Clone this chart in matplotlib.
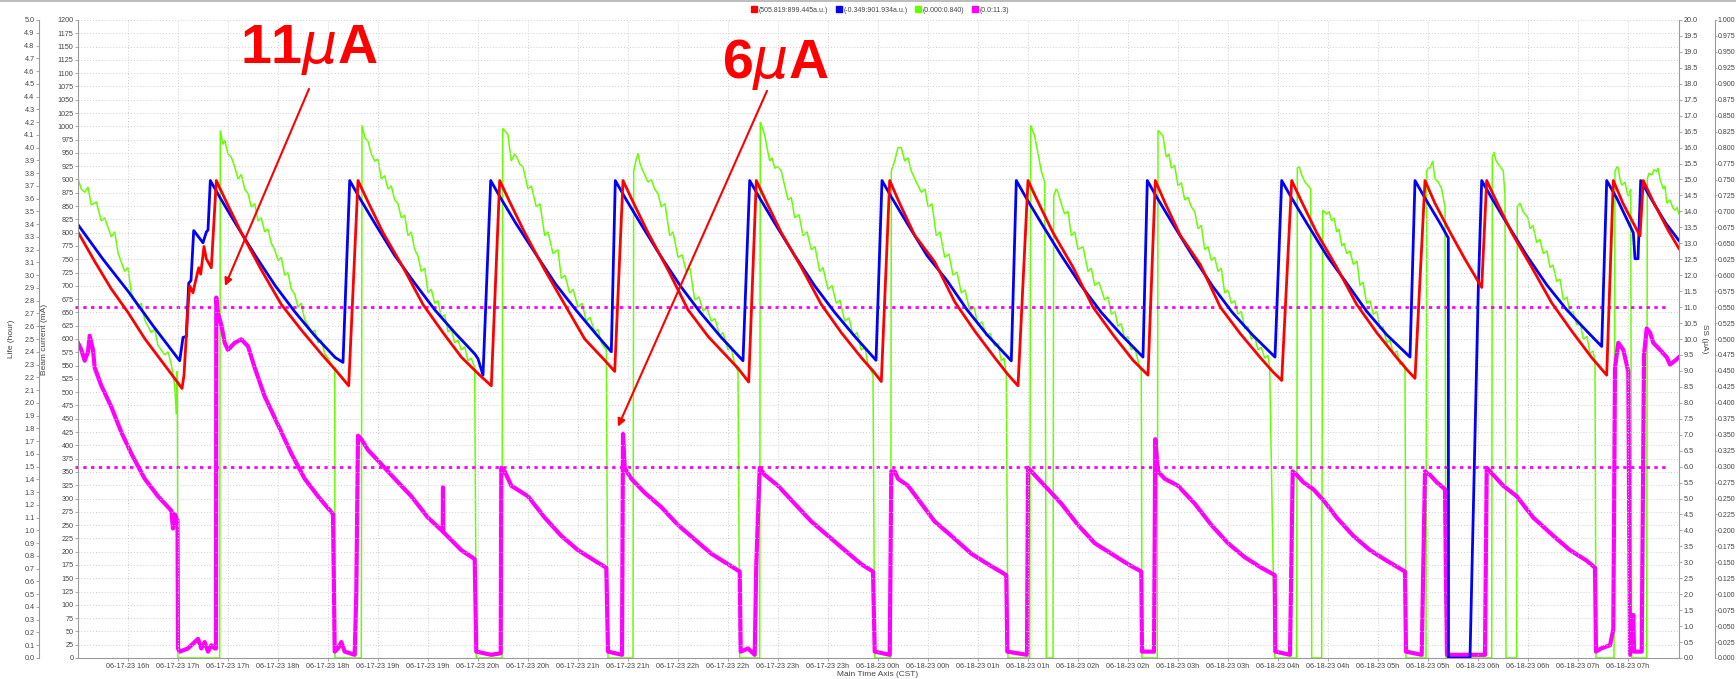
import matplotlib
matplotlib.use("Agg")
import matplotlib.pyplot as plt
import numpy as np
from matplotlib.lines import Line2D

plt.rcParams["font.family"] = ["Liberation Sans", "DejaVu Sans"]

# time axis: hours after 06-17-23 16:00 (CST)
x_ticks = np.arange(0.5, 16.0, 0.5)
x_tick_labels = [
    "06-17-23 16h", "06-17-23 17h", "06-17-23 17h", "06-17-23 18h", "06-17-23 18h",
    "06-17-23 19h", "06-17-23 19h", "06-17-23 20h", "06-17-23 20h", "06-17-23 21h",
    "06-17-23 21h", "06-17-23 22h", "06-17-23 22h", "06-17-23 23h", "06-17-23 23h",
    "06-18-23 00h", "06-18-23 00h", "06-18-23 01h", "06-18-23 01h", "06-18-23 02h",
    "06-18-23 02h", "06-18-23 03h", "06-18-23 03h", "06-18-23 04h", "06-18-23 04h",
    "06-18-23 05h", "06-18-23 05h", "06-18-23 06h", "06-18-23 06h", "06-18-23 07h",
    "06-18-23 07h",
]

# red: beam current (mA)
red_t = [0.00, 0.17, 0.33, 0.50, 0.67, 0.83, 0.95, 1.04,
         1.06, 1.10, 1.117, 1.15, 1.173, 1.207, 1.227, 1.26, 1.283, 1.333,
         1.383, 1.483, 1.633, 1.833, 2.033, 2.233, 2.433, 2.583, 2.707,
         2.80, 2.90, 3.05, 3.25, 3.45, 3.65, 3.833, 4.00, 4.133,
         4.217, 4.317, 4.467, 4.667, 4.867, 5.067, 5.267, 5.367,
         5.45, 5.55, 5.70, 5.90, 6.10, 6.30, 6.50, 6.60, 6.707,
         6.783, 6.883, 7.033, 7.233, 7.433, 7.633, 7.833, 7.95, 8.033,
         8.117, 8.217, 8.367, 8.567, 8.767, 8.967, 9.167, 9.30, 9.40,
         9.50, 9.60, 9.75, 9.95, 10.15, 10.35, 10.55, 10.70,
         10.773, 10.873, 11.023, 11.223, 11.423, 11.623, 11.823, 11.95, 12.037,
         12.137, 12.237, 12.387, 12.587, 12.787, 12.987, 13.187, 13.30, 13.37,
         13.47, 13.57, 13.72, 13.87, 14.037,
         14.087, 14.187, 14.337, 14.537, 14.737, 14.937, 15.137, 15.287,
         15.353, 15.45, 15.62,
         15.653, 15.753, 15.90, 16.01]
red_v = [801, 745, 695, 650, 600, 560, 530, 507,
         532, 660, 700, 687, 707, 734, 722, 774, 751, 734,
         898, 858, 800, 730, 665, 617, 572, 540, 512,
         898, 858, 800, 735, 665, 612, 566, 535, 512,
         898, 858, 800, 730, 665, 600, 560, 539,
         898, 858, 800, 730, 655, 605, 565, 545, 519,
         898, 858, 800, 735, 665, 612, 565, 540, 520,
         898, 855, 795, 745, 670, 615, 565, 533, 512,
         898, 858, 800, 735, 660, 608, 560, 532,
         898, 855, 795, 740, 660, 610, 565, 538, 522,
         898, 858, 800, 735, 665, 612, 565, 540, 526,
         898, 855, 801, 750, 697,
         898, 858, 800, 735, 668, 615, 565, 532,
         898, 855, 794,
         898, 858, 805, 770]

# blue: beam current (mA)
blue_t = [0.00, 0.25, 0.50, 0.75, 1.017,
          1.05, 1.083, 1.107, 1.13, 1.157, 1.25, 1.283, 1.30,
          1.323, 1.423, 1.573, 1.773, 1.973, 2.173, 2.373, 2.573, 2.65,
          2.717, 2.817, 2.967, 3.167, 3.367, 3.567, 3.767, 3.967, 4.00, 4.05,
          4.127, 4.227, 4.377, 4.577, 4.777, 4.977, 5.177, 5.333,
          5.373, 5.473, 5.623, 5.823, 6.023, 6.223, 6.423, 6.65,
          6.717, 6.817, 6.967, 7.167, 7.367, 7.567, 7.767, 7.98,
          8.04, 8.14, 8.29, 8.49, 8.69, 8.89, 9.09, 9.333,
          9.383, 9.483, 9.633, 9.833, 10.033, 10.233, 10.433, 10.65,
          10.693, 10.793, 10.943, 11.143, 11.343, 11.543, 11.743, 11.97,
          12.037, 12.137, 12.287, 12.487, 12.687, 12.887, 13.087, 13.32,
          13.37, 13.47, 13.62, 13.703, 13.705, 13.92, 14.003,
          14.037, 14.137, 14.287, 14.487, 14.687, 14.887, 15.087, 15.237,
          15.287, 15.387, 15.553, 15.57, 15.60,
          15.627, 15.727, 15.877, 16.01]
blue_v = [815, 750, 690, 625, 559,
          603, 605, 705, 710, 804, 781, 801, 805,
          898, 865, 818, 757, 700, 650, 605, 565, 556,
          898, 865, 818, 757, 705, 655, 612, 572, 563, 532,
          898, 865, 818, 760, 703, 655, 610, 576,
          898, 865, 818, 757, 700, 650, 605, 559,
          898, 865, 818, 757, 700, 650, 605, 560,
          898, 865, 818, 757, 710, 655, 608, 559,
          898, 865, 818, 757, 700, 650, 608, 566,
          898, 865, 818, 757, 700, 650, 608, 566,
          898, 865, 818, 757, 705, 652, 608, 566,
          898, 865, 818, 790, 0, 0, 694,
          898, 865, 818, 757, 702, 655, 615, 586,
          898, 865, 800, 751, 751,
          898, 865, 818, 785]

# green: (0.000:0.840)
green_t = [0.00, 0.033, 0.067, 0.10, 0.133, 0.183, 0.233, 0.267, 0.30, 0.333, 0.367, 0.40, 0.467, 0.50, 0.533, 0.60,
           0.633, 0.667, 0.733, 0.767, 0.80, 0.867, 0.90, 0.933, 0.967, 0.983, 0.993, 1.00,
           1.417, 1.423, 1.45, 1.467, 1.50, 1.533, 1.567, 1.60, 1.633, 1.667, 1.70, 1.733, 1.767, 1.80, 1.833,
           1.867, 1.90, 1.933, 1.967, 2.00, 2.033, 2.067, 2.10, 2.133, 2.167, 2.20, 2.233, 2.267, 2.30, 2.333,
           2.367, 2.40, 2.433, 2.467, 2.50, 2.533, 2.567, 2.57,
           2.833, 2.84, 2.87, 2.90, 2.933, 2.967, 3.00, 3.033, 3.067, 3.10, 3.133, 3.167, 3.20, 3.233, 3.267,
           3.30, 3.333, 3.367, 3.40, 3.433, 3.467, 3.50, 3.533, 3.567, 3.60, 3.633, 3.667, 3.70, 3.733, 3.767,
           3.80, 3.833, 3.867, 3.90, 3.933, 3.967, 3.983,
           4.24, 4.247, 4.27, 4.30, 4.333, 4.367, 4.40, 4.417, 4.45, 4.50, 4.533, 4.583, 4.62, 4.667, 4.70,
           4.75, 4.80, 4.833, 4.87, 4.917, 4.95, 5.00, 5.04, 5.083, 5.12, 5.167, 5.20, 5.233, 5.283, 5.30,
           5.55, 5.557, 5.58, 5.60, 5.62, 5.65, 5.70, 5.733, 5.767, 5.80, 5.833, 5.87, 5.917, 5.95, 6.00,
           6.04, 6.083, 6.12, 6.167, 6.21, 6.25, 6.29, 6.333, 6.37, 6.417, 6.45, 6.50, 6.53, 6.567, 6.60, 6.617,
           6.817, 6.823, 6.85, 6.867, 6.89, 6.917, 6.94, 6.967, 7.00, 7.033, 7.067, 7.10, 7.133, 7.167, 7.21,
           7.25, 7.29, 7.333, 7.37, 7.417, 7.45, 7.50, 7.54, 7.583, 7.62, 7.667, 7.71, 7.75, 7.79, 7.833,
           7.87, 7.90, 7.95, 7.967,
           8.127, 8.133, 8.15, 8.167, 8.20, 8.233, 8.267, 8.30, 8.333, 8.383, 8.433, 8.47, 8.50, 8.54, 8.583,
           8.62, 8.667, 8.71, 8.75, 8.79, 8.833, 8.87, 8.917, 8.96, 9.00, 9.04, 9.083, 9.12, 9.167, 9.20,
           9.233, 9.26, 9.283, 9.30,
           9.517, 9.527, 9.55, 9.567, 9.60, 9.633, 9.667, 9.683, 9.75, 9.757, 9.78, 9.80, 9.833, 9.867, 9.90,
           9.933, 9.967, 10.00, 10.05, 10.10, 10.133, 10.167, 10.21, 10.267, 10.30, 10.333, 10.37, 10.40,
           10.433, 10.467, 10.50, 10.533, 10.567, 10.60, 10.633, 10.64,
           10.793, 10.80, 10.83, 10.85, 10.883, 10.91, 10.933, 10.967, 11.00, 11.033, 11.067, 11.10, 11.133,
           11.167, 11.20, 11.233, 11.267, 11.30, 11.333, 11.367, 11.40, 11.433, 11.467, 11.50, 11.533, 11.567,
           11.60, 11.633, 11.667, 11.70, 11.733, 11.767, 11.80, 11.833, 11.867, 11.90, 11.917, 11.967,
           12.187, 12.193, 12.213, 12.237, 12.27, 12.303, 12.327, 12.337, 12.437, 12.447, 12.487, 12.51,
           12.537, 12.56, 12.587, 12.61, 12.637, 12.66, 12.687, 12.72, 12.753, 12.79, 12.82, 12.85, 12.887,
           12.92, 12.953, 12.99, 13.02, 13.05, 13.087, 13.12, 13.153, 13.19, 13.22, 13.25, 13.27, 13.28,
           13.48, 13.487, 13.50, 13.52, 13.547, 13.57, 13.603, 13.637, 13.67, 13.68,
           14.137, 14.143, 14.16, 14.18, 14.203, 14.23, 14.253, 14.27, 14.28,
           14.387, 14.393, 14.42, 14.45, 14.47, 14.50, 14.52, 14.55, 14.587, 14.62, 14.653, 14.69, 14.72,
           14.75, 14.787, 14.82, 14.853, 14.89, 14.92, 14.95, 14.987, 15.02, 15.053, 15.09, 15.12, 15.15,
           15.17, 15.18,
           15.36, 15.37, 15.39, 15.403, 15.42, 15.437, 15.47, 15.49, 15.503, 15.527, 15.537,
           15.687, 15.693, 15.71, 15.737, 15.76, 15.787, 15.80, 15.82, 15.853, 15.87, 15.887, 15.92, 15.95,
           15.97, 15.99, 16.01]
green_v = [0.751, 0.735, 0.730, 0.738, 0.710, 0.715, 0.685, 0.690, 0.675, 0.660, 0.668, 0.635, 0.606, 0.612, 0.572, 0.550,
           0.556, 0.530, 0.510, 0.516, 0.490, 0.475, 0.480, 0.460, 0.427, 0.382, 0.450, 0.0,
           0.0, 0.827, 0.805, 0.812, 0.790, 0.785, 0.770, 0.751, 0.758, 0.735, 0.728, 0.707, 0.712, 0.685, 0.690,
           0.668, 0.672, 0.650, 0.640, 0.623, 0.628, 0.600, 0.604, 0.578, 0.570, 0.550, 0.556, 0.530, 0.522, 0.510,
           0.514, 0.494, 0.499, 0.477, 0.470, 0.460, 0.455, 0.0,
           0.0, 0.835, 0.815, 0.810, 0.790, 0.779, 0.782, 0.751, 0.756, 0.735, 0.740, 0.718, 0.712, 0.690, 0.694,
           0.662, 0.668, 0.640, 0.630, 0.606, 0.611, 0.573, 0.578, 0.556, 0.560, 0.534, 0.538, 0.511, 0.516, 0.494,
           0.498, 0.483, 0.488, 0.466, 0.470, 0.455, 0.0,
           0.0, 0.830, 0.826, 0.820, 0.779, 0.790, 0.781, 0.774, 0.770, 0.735, 0.740, 0.707, 0.712, 0.662, 0.668,
           0.634, 0.640, 0.595, 0.600, 0.572, 0.578, 0.550, 0.556, 0.528, 0.534, 0.511, 0.515, 0.494, 0.483, 0.0,
           0.0, 0.763, 0.780, 0.791, 0.775, 0.763, 0.746, 0.750, 0.735, 0.728, 0.707, 0.712, 0.662, 0.668, 0.628,
           0.632, 0.606, 0.611, 0.561, 0.566, 0.544, 0.549, 0.528, 0.532, 0.505, 0.510, 0.483, 0.488, 0.460, 0.449, 0.0,
           0.0, 0.840, 0.828, 0.820, 0.800, 0.779, 0.784, 0.768, 0.770, 0.763, 0.740, 0.718, 0.722, 0.690, 0.695,
           0.662, 0.668, 0.640, 0.645, 0.606, 0.612, 0.578, 0.584, 0.556, 0.561, 0.528, 0.533, 0.505, 0.510, 0.483,
           0.487, 0.460, 0.444, 0.0,
           0.0, 0.763, 0.772, 0.779, 0.800, 0.800, 0.779, 0.784, 0.763, 0.746, 0.730, 0.735, 0.707, 0.712, 0.662,
           0.668, 0.628, 0.633, 0.600, 0.605, 0.572, 0.577, 0.545, 0.550, 0.522, 0.527, 0.505, 0.509, 0.489, 0.493,
           0.466, 0.470, 0.444, 0.0,
           0.0, 0.835, 0.825, 0.818, 0.791, 0.763, 0.746, 0.0, 0.0, 0.724, 0.735, 0.730, 0.712, 0.696, 0.700,
           0.662, 0.668, 0.640, 0.645, 0.606, 0.611, 0.584, 0.589, 0.561, 0.566, 0.539, 0.543, 0.520,
           0.524, 0.500, 0.504, 0.483, 0.487, 0.466, 0.449, 0.0,
           0.0, 0.827, 0.822, 0.818, 0.785, 0.790, 0.768, 0.772, 0.740, 0.745, 0.718, 0.722, 0.707,
           0.700, 0.673, 0.678, 0.640, 0.645, 0.623, 0.628, 0.606, 0.611, 0.572, 0.577, 0.556, 0.560,
           0.539, 0.543, 0.516, 0.520, 0.500, 0.504, 0.483, 0.487, 0.470, 0.474, 0.455, 0.0,
           0.0, 0.768, 0.770, 0.757, 0.746, 0.740, 0.735, 0.0, 0.0, 0.702, 0.696, 0.700,
           0.685, 0.690, 0.668, 0.672, 0.646, 0.650, 0.634, 0.638, 0.617, 0.622, 0.584, 0.589, 0.556,
           0.560, 0.539, 0.543, 0.516, 0.520, 0.494, 0.498, 0.477, 0.481, 0.460, 0.464, 0.455, 0.0,
           0.0, 0.763, 0.768, 0.768, 0.779, 0.751, 0.746, 0.735, 0.707, 0.0,
           0.0, 0.785, 0.793, 0.780, 0.774, 0.768, 0.763, 0.724, 0.0,
           0.0, 0.707, 0.713, 0.700, 0.696, 0.690, 0.673, 0.678, 0.651, 0.656, 0.634, 0.638, 0.612,
           0.616, 0.590, 0.594, 0.561, 0.566, 0.539, 0.543, 0.522, 0.526, 0.500, 0.504, 0.477, 0.481,
           0.466, 0.0,
           0.0, 0.763, 0.770, 0.768, 0.750, 0.741, 0.746, 0.730, 0.724, 0.735, 0.0,
           0.0, 0.751, 0.760, 0.757, 0.765, 0.763, 0.768, 0.751, 0.735, 0.740, 0.713, 0.718, 0.705,
           0.702, 0.706, 0.696]

# magenta: SS current (uA)
pink_t = [0.00, 0.033, 0.067, 0.10, 0.117, 0.15, 0.167, 0.233, 0.333, 0.433, 0.533, 0.667, 0.80, 0.933, 0.95,
          0.967, 0.983, 0.995, 1.00,
          1.017, 1.10, 1.167, 1.20, 1.233, 1.267, 1.30, 1.333, 1.367, 1.38, 1.383, 1.40, 1.433, 1.467, 1.50,
          1.533, 1.567, 1.633, 1.70, 1.767, 1.867, 2.00, 2.133, 2.267, 2.40, 2.55, 2.567,
          2.60, 2.633, 2.667, 2.767, 2.783, 2.80, 2.833, 2.90, 3.00, 3.167, 3.333, 3.50, 3.647, 3.65, 3.653,
          3.833, 3.967, 3.983,
          4.133, 4.227, 4.233, 4.267, 4.333, 4.50, 4.667, 4.833, 5.00, 5.167, 5.283, 5.30,
          5.44, 5.45, 5.467, 5.533, 5.667, 5.833, 6.00, 6.167, 6.333, 6.50, 6.617, 6.627,
          6.70, 6.767, 6.783, 6.817, 6.867, 7.00, 7.167, 7.333, 7.50, 7.667, 7.833, 7.95, 7.967,
          8.117, 8.133, 8.167, 8.20, 8.30, 8.433, 8.567, 8.733, 8.933, 9.10, 9.283, 9.293,
          9.49, 9.50, 9.533, 9.667, 9.733, 9.833, 10.00, 10.167, 10.333, 10.50, 10.633, 10.64,
          10.76, 10.773, 10.80, 10.867, 11.00, 11.167, 11.333, 11.50, 11.667, 11.833, 11.967, 11.973,
          12.12, 12.147, 12.187, 12.253, 12.353, 12.453, 12.587, 12.753, 12.92, 13.087, 13.27, 13.28,
          13.437, 13.47, 13.52, 13.587, 13.67, 13.68, 13.69,
          14.07, 14.087, 14.12, 14.253, 14.387, 14.553, 14.753, 14.92, 15.087, 15.17, 15.18,
          15.23, 15.32, 15.353, 15.37, 15.403, 15.453, 15.487, 15.503, 15.52,
          15.553, 15.56, 15.637, 15.66, 15.687, 15.72, 15.753, 15.82, 15.887, 15.92, 15.97, 16.01]
pink_v = [9.88, 9.66, 9.32, 9.60, 10.10, 9.66, 9.10, 8.54, 7.87, 7.08, 6.41, 5.62, 5.07, 4.62, 4.06,
          4.51, 4.40, 4.30, 0.30,
          0.20, 0.30, 0.50, 0.60, 0.30, 0.50, 0.20, 0.40, 0.30, 0.30, 11.30, 10.80, 10.44, 9.88, 9.66,
          9.77, 9.88, 9.99, 9.77, 9.10, 8.20, 7.31, 6.41, 5.62, 5.07, 4.51, 0.20,
          0.30, 0.50, 0.20, 0.10, 2.04, 6.97, 6.86, 6.52, 6.19, 5.62, 5.07, 4.40, 3.97, 5.35, 3.95,
          3.38, 3.10, 0.20,
          0.10, 0.15, 5.96, 5.85, 5.40, 5.07, 4.40, 3.83, 3.38, 3.05, 2.83, 0.20,
          0.10, 7.03, 5.96, 5.62, 5.18, 4.73, 4.17, 3.72, 3.27, 2.94, 2.71, 0.20,
          0.30, 0.10, 2.94, 5.96, 5.74, 5.40, 4.84, 4.28, 3.83, 3.38, 2.94, 2.71, 0.20,
          0.10, 5.85, 5.85, 5.62, 5.40, 4.84, 4.28, 3.83, 3.27, 2.94, 2.60, 0.20,
          0.10, 5.96, 5.85, 5.40, 5.18, 4.84, 4.17, 3.60, 3.27, 2.94, 2.71, 0.20,
          0.20, 6.86, 5.85, 5.62, 5.40, 4.84, 4.17, 3.60, 3.16, 2.83, 2.60, 0.20,
          0.10, 5.85, 5.74, 5.51, 5.29, 4.95, 4.40, 3.83, 3.38, 3.05, 2.71, 0.20,
          0.10, 5.85, 5.74, 5.51, 5.29, 2.38, 0.10,
          0.10, 5.96, 5.85, 5.40, 5.07, 4.40, 3.83, 3.38, 3.05, 2.83, 0.20,
          0.30, 0.40, 0.90, 9.10, 9.88, 9.66, 9.20, 8.98, 0.10,
          1.35, 0.20, 0.20, 9.50, 10.33, 10.20, 9.88, 9.66, 9.43, 9.20, 9.32, 9.43]

legend_labels = ["(505.819:899.445a.u.)", "(-0.349:901.934a.u.)", "(0.000:0.840)", "(0.0:11.3)"]
ref_levels_ua = [11.0, 6.0]

c_red, c_blue, c_green, c_pink = "#ff0000", "#0000ff", "#66ff00", "#ff00ff"
txt = "#444444"
spine_c = "#9a9a9a"
tfs = 5.2

W, H = 1736, 679
fig = plt.figure(figsize=(W / 100, H / 100), dpi=100)
ax = fig.add_axes([78 / W, 21 / H, 1601 / W, 638 / H])
ax_life = ax.twinx()
ax_ua = ax.twinx()
ax_g = ax.twinx()

ax_g.set_zorder(1)
ax_ua.set_zorder(2)
ax_life.set_zorder(0)
ax.set_zorder(3)
ax.patch.set_visible(False)

xmax = 16.01
for a in (ax, ax_life, ax_ua, ax_g):
    a.set_xlim(0, xmax)
    for s in a.spines.values():
        s.set_visible(False)
    a.tick_params(axis="y", labelsize=tfs, labelcolor=txt, color=spine_c, length=2.0, width=0.6, pad=1.2)

# main: beam current
ax.set_ylim(0, 1200)
ax.set_yticks(np.arange(0, 1201, 25))
ax.spines["left"].set_visible(True)
ax.spines["left"].set_color(spine_c)
ax.spines["bottom"].set_visible(True)
ax.spines["bottom"].set_color(spine_c)
ax.set_xticks(x_ticks)
ax.set_xticklabels(x_tick_labels)
ax.tick_params(axis="x", labelsize=tfs, labelcolor=txt, color=spine_c, length=2.0, width=0.6, pad=1.5)
ax.grid(True, linestyle=(0, (1, 2)), color="#cfcfcf", linewidth=0.7)
ax.set_ylabel("Beam current (mA)", fontsize=6, color=txt)
ax.yaxis.set_label_coords((48 - 78) / 1601, 0.5)

# life axis far left
ax_life.set_ylim(0, 5)
ax_life.set_yticks(np.arange(0, 5.01, 0.1))
ax_life.set_yticklabels([f"{v:.1f}" for v in np.arange(0, 5.01, 0.1)])
ax_life.yaxis.set_ticks_position("left")
ax_life.yaxis.set_label_position("left")
ax_life.spines["left"].set_visible(True)
ax_life.spines["left"].set_color(spine_c)
ax_life.spines["left"].set_position(("outward", 39 * 0.72))
ax_life.set_ylabel("Life (hour)", fontsize=6, color=txt)
ax_life.yaxis.set_label_coords((15 - 78) / 1601, 0.5)

# SS current right
ax_ua.set_ylim(0, 20)
ax_ua.set_yticks(np.arange(0, 20.01, 0.5))
ax_ua.set_yticklabels([f"{v:.1f}" for v in np.arange(0, 20.01, 0.5)])
ax_ua.spines["right"].set_visible(True)
ax_ua.spines["right"].set_color(spine_c)
ax_ua.set_ylabel("SS (\u03bcA)", fontsize=6, color=txt, rotation=270, va="center")
ax_ua.yaxis.set_label_coords((1704 - 78) / 1601, 0.5)

# green axis far right
ax_g.set_ylim(0, 1)
ax_g.set_yticks(np.arange(0, 1.0001, 0.025))
ax_g.set_yticklabels([f"{v:.3f}" for v in np.arange(0, 1.0001, 0.025)])
ax_g.spines["right"].set_visible(True)
ax_g.spines["right"].set_color(spine_c)
ax_g.spines["right"].set_position(("outward", 36 * 0.72))
ax_g.tick_params(axis="y", labelsize=5.0, length=1.2, pad=0.8)

# series
ax_g.plot(green_t, green_v, color=c_green, lw=1.1, solid_joinstyle="miter")
ax_ua.plot(pink_t, pink_v, color=c_pink, lw=3.0)
for lvl in ref_levels_ua:
    ax_ua.plot([-0.03, 15.9], [lvl, lvl], color=c_pink, lw=2.0, linestyle=(0, (1.2, 1.6)), clip_on=False)
ax.plot(blue_t, blue_v, color=c_blue, lw=2.0)
ax.plot(red_t, red_v, color=c_red, lw=2.0)

# annotations (positions in uA converted to mA axis: 1 uA = 60 mA on shared height)
ua = 1200 / 20
ax.annotate("", xy=(1.47, 11.66 * ua), xytext=(2.31, 17.84 * ua),
            arrowprops=dict(arrowstyle="-|>", color=c_red, lw=1.5, mutation_scale=11, shrinkA=0, shrinkB=0))
ax.annotate("", xy=(5.40, 7.25 * ua), xytext=(6.89, 17.78 * ua),
            arrowprops=dict(arrowstyle="-|>", color=c_red, lw=1.5, mutation_scale=11, shrinkA=0, shrinkB=0))
ax.text(2.31, 19.05 * ua, "11$\\mu$A", color=c_red, fontsize=40, fontweight="bold", ha="center", va="center")
ax.text(6.97, 18.6 * ua, "6$\\mu$A", color=c_red, fontsize=40, fontweight="bold", ha="center", va="center")

# legend
handles = [Line2D([], [], marker="s", linestyle="none", color=c, markersize=4)
           for c in (c_red, c_blue, c_green, c_pink)]
fig.legend(handles, legend_labels, loc="center", bbox_to_anchor=(880 / W, 1 - 10 / H), ncol=4,
           fontsize=5, frameon=False, handletextpad=0.2, columnspacing=1.0, handlelength=1.0,
           labelcolor=txt)

fig.text(878 / W, 1.5 / H, "Main Time Axis (CST)", fontsize=6, color=txt, ha="center", va="bottom")
fig.add_artist(Line2D([0, 1], [0.998, 0.998], color="#b0b0b0", lw=1.2))

fig.savefig("out.png", dpi=100)
